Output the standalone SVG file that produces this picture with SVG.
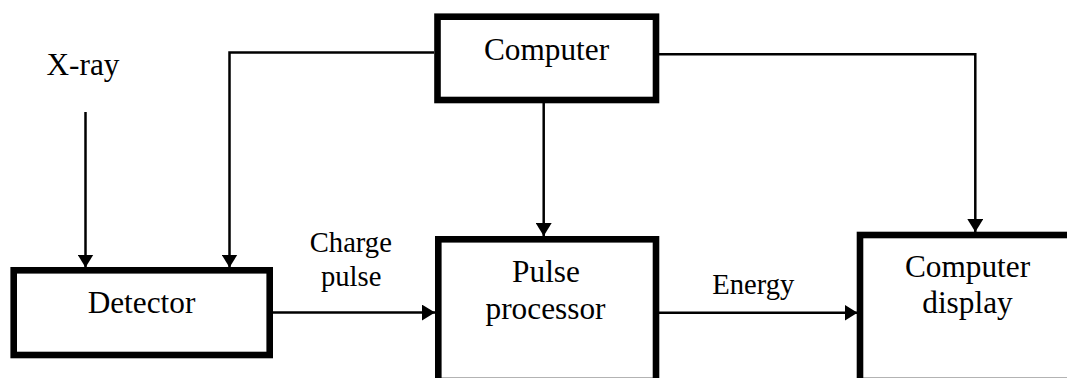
<svg xmlns="http://www.w3.org/2000/svg" width="1067" height="378" viewBox="0 0 1067 378">
  <style>
    .box { fill: #ffffff; stroke: #000000; stroke-width: 6.6; }
    .node { font-family: "Liberation Serif", "Times New Roman", serif; font-size: 31.3px; fill: #000000; text-anchor: middle; }
    .lbl { font-family: "Liberation Serif", "Times New Roman", serif; font-size: 28.6px; fill: #000000; text-anchor: middle; }
    .conn { fill: none; stroke: #000000; stroke-width: 2.5; marker-end: url(#arr); }
  </style>
  <defs>
    <marker id="arr" markerUnits="userSpaceOnUse" viewBox="0 0 13 16" refX="13" refY="8" markerWidth="13" markerHeight="16" orient="auto">
      <path d="M0,0 L13,8 L0,16 z" fill="#000000"/>
    </marker>
  </defs>
  <rect width="1067" height="378" fill="#ffffff"/>

  <g id="connectors">
    <path class="conn" d="M85.5,112 V267.5"/>
    <path class="conn" d="M434,52.5 H229.5 V267.5"/>
    <path class="conn" d="M543.7,103 V236"/>
    <path class="conn" d="M659,54.3 H975.3 V232"/>
    <path class="conn" d="M273,312.6 H435"/>
    <path class="conn" d="M659,312.7 H857.5"/>
  </g>

  <g id="xray">
    <text class="node" x="83" y="75">X-ray</text>
  </g>

  <g id="computer">
    <rect class="box" x="437.5" y="16.7" width="218.5" height="83.3"/>
    <text class="node" x="546.5" y="59.5">Computer</text>
  </g>

  <g id="detector">
    <rect class="box" x="13.7" y="270.3" width="256" height="84.7"/>
    <text class="node" x="141.5" y="312.7">Detector</text>
  </g>

  <g id="pulse-processor">
    <rect class="box" x="438.3" y="239.3" width="217.7" height="141.7"/>
    <text class="node" x="546" y="281.7">Pulse</text>
    <text class="node" x="545.5" y="319">processor</text>
  </g>

  <g id="computer-display">
    <rect class="box" x="860" y="235" width="218" height="146"/>
    <text class="node" x="967.5" y="276.7">Computer</text>
    <text class="node" x="967.5" y="313.3">display</text>
  </g>

  <g id="labels">
    <text class="lbl" x="350.8" y="252.3">Charge</text>
    <text class="lbl" x="351.2" y="286">pulse</text>
    <text class="lbl" x="753.3" y="294">Energy</text>
  </g>
</svg>
